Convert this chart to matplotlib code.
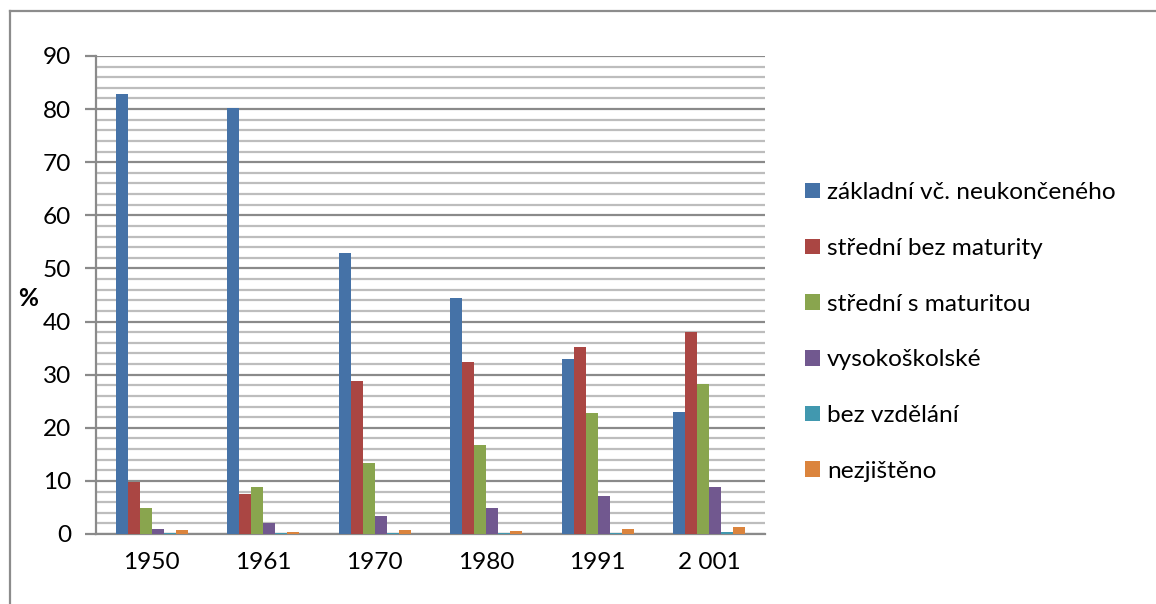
import numpy as np
import matplotlib
matplotlib.use("Agg")
import matplotlib.pyplot as plt
from matplotlib.ticker import MultipleLocator
from matplotlib.lines import Line2D

plt.rcParams['font.family'] = ['Lato', 'DejaVu Sans']

years = ["1950", "1961", "1970", "1980", "1991", "2 001"]
series = ["základní vč. neukončeného", "střední bez maturity",
          "střední s maturitou", "vysokoškolské", "bez vzdělání", "nezjištěno"]
zakladni = [82.9, 80.3, 53.0, 44.5, 33.0, 23.0]
bez_maturity = [9.7, 7.6, 28.8, 32.4, 35.3, 38.0]
s_maturitou = [4.9, 8.9, 13.4, 16.8, 22.8, 28.3]
vysokoskolske = [0.9, 2.1, 3.3, 4.9, 7.1, 8.9]
bez_vzdelani = [0.2, 0.2, 0.2, 0.2, 0.2, 0.4]
nezjisteno = [0.8, 0.4, 0.8, 0.6, 1.0, 1.3]
values = [zakladni, bez_maturity, s_maturitou, vysokoskolske, bez_vzdelani, nezjisteno]
colors = ["#4572A7", "#AA4643", "#89A54E", "#71588F", "#4198AF", "#DB843D"]

fig = plt.figure(figsize=(11.56, 6.04), dpi=100)
ax = fig.add_axes([96 / 1156, 1 - 534 / 604, (765 - 96) / 1156, (534 - 56) / 604])

x = np.arange(len(years))
w = 0.108
for i, (name, vals, c) in enumerate(zip(series, values, colors)):
    ax.bar(x + (i - 2.5) * w, vals, width=w, color=c, label=name, zorder=3)

ax.set_xlim(-0.5, len(years) - 0.5)
ax.set_ylim(0, 90)
ax.set_xticks(x)
ax.set_xticklabels(years)
ax.yaxis.set_major_locator(MultipleLocator(10))
ax.yaxis.set_minor_locator(MultipleLocator(2))
ax.grid(axis='y', which='major', color='#8a8a8a', lw=1.6, zorder=1)
ax.grid(axis='y', which='minor', color='#bdbdbd', lw=1.6, zorder=1)
ax.set_axisbelow(True)

for s in ['top', 'right']:
    ax.spines[s].set_visible(False)
for s in ['left', 'bottom']:
    ax.spines[s].set_color('#8a8a8a')
    ax.spines[s].set_linewidth(1.6)

fs = 17.6
ax.tick_params(axis='y', which='major', length=8, width=1.6, color='#8a8a8a',
               labelsize=fs, pad=10)
ax.tick_params(axis='y', which='minor', length=0)
ax.tick_params(axis='x', length=0, labelsize=fs, pad=13)

fig.text(28 / 1156, 1 - 298 / 604, "%", fontsize=fs, fontweight='bold',
         ha='center', va='center')

ax.legend(loc='center left', bbox_to_anchor=(805 / 1156, 1 - 332 / 604),
          bbox_transform=fig.transFigure, frameon=False, fontsize=fs,
          handlelength=0.6, handleheight=0.6, handletextpad=0.3,
          labelspacing=1.42, borderaxespad=0, borderpad=0)

# chart area border (top and left only visible)
fig.add_artist(Line2D([10 / 1156, 10 / 1156], [0, 1 - 11 / 604], color='#8c8c8c', lw=1.6))
fig.add_artist(Line2D([10 / 1156, 1], [1 - 11 / 604, 1 - 11 / 604], color='#8c8c8c', lw=1.6))

fig.savefig("out.png", dpi=100)
